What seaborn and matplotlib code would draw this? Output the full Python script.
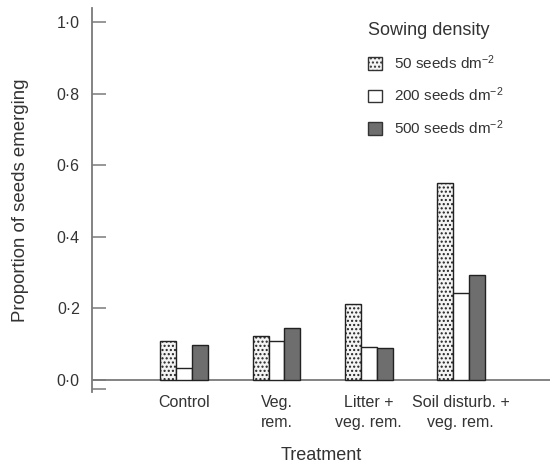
import matplotlib
matplotlib.use("Agg")
import matplotlib.pyplot as plt
import seaborn as sns
import pandas as pd
from matplotlib.patches import Patch

treatments = ["Control", "Veg.\nrem.", "Litter +\nveg. rem.", "Soil disturb. +\nveg. rem."]
densities = ["50 seeds dm$^{-2}$", "200 seeds dm$^{-2}$", "500 seeds dm$^{-2}$"]
d50 = [0.109, 0.123, 0.212, 0.550]
d200 = [0.034, 0.109, 0.092, 0.243]
d500 = [0.098, 0.145, 0.089, 0.293]
ytick_vals = [0.0, 0.2, 0.4, 0.6, 0.8, 1.0]
ytick_labels = ["0·0", "0·2", "0·4", "0·6", "0·8", "1·0"]

rows = []
for name, vals in zip(densities, [d50, d200, d500]):
    for t, v in zip(treatments, vals):
        rows.append({"Treatment": t, "Density": name, "Proportion": v})
df = pd.DataFrame(rows)

sns.set_style("white")
plt.rcParams["font.family"] = ["Liberation Sans", "DejaVu Sans"]
plt.rcParams["mathtext.default"] = "regular"
plt.rcParams["hatch.color"] = "#555555"
plt.rcParams["hatch.linewidth"] = 1.0

txt = "#333333"
axc = "#7a7a7a"
fills = ["#f4f4f4", "#ffffff", "#6e6e6e"]
hatches = ["....", "", ""]

W, H = 550, 468
fig = plt.figure(figsize=(W / 100, H / 100), dpi=100)
ax = fig.add_axes([92.3 / W, (H - 392) / H, (550 - 92.3) / W, (392 - 8.3) / H])

sns.barplot(data=df, x="Treatment", y="Proportion", hue="Density",
            order=treatments, hue_order=densities, palette=fills,
            width=0.52, dodge=True, errorbar=None, legend=False,
            edgecolor="#222222", linewidth=1.0, ax=ax, saturation=1)

for cont, h in zip(ax.containers, hatches):
    for p in cont.patches:
        p.set_hatch(h)

ax.set_xlim(-1.0, 3.97)
ax.set_ylim(-0.0335, 1.038)
ax.axhline(0, color=axc, lw=1.3, zorder=0.5)

ax.set_yticks([-0.025] + ytick_vals)
ax.set_yticklabels([""] + ytick_labels)
ax.tick_params(axis="y", left=True, direction="in", length=10, width=1.1, color=axc,
               pad=9, labelsize=11.5, labelcolor=txt)
ax.tick_params(axis="x", bottom=False, length=0, pad=2, labelsize=11.5, labelcolor=txt)
for lab in ax.get_xticklabels():
    lab.set_linespacing(1.45)

for s in ["top", "right", "bottom"]:
    ax.spines[s].set_visible(False)
ax.spines["left"].set_color(axc)
ax.spines["left"].set_linewidth(1.3)

ax.set_xlabel("Treatment", fontsize=13, color=txt, labelpad=12)
ax.set_ylabel("Proportion of seeds emerging", fontsize=13.4, color=txt, labelpad=20)

handles = [Patch(facecolor=f, edgecolor="#333333", hatch=h, linewidth=1.0)
           for f, h in zip(fills, hatches)]
leg = ax.legend(handles, densities, title="Sowing density", loc="upper left",
                bbox_to_anchor=(368 / W, 1 - 22 / H), bbox_transform=fig.transFigure,
                frameon=False, fontsize=11, title_fontsize=13, alignment="left",
                handlelength=0.9, handleheight=0.9, handletextpad=0.8,
                labelspacing=0.92, borderpad=0, borderaxespad=0)
for t in leg.get_texts():
    t.set_color(txt)
leg.get_title().set_color(txt)

fig.savefig("out.png", dpi=100)
